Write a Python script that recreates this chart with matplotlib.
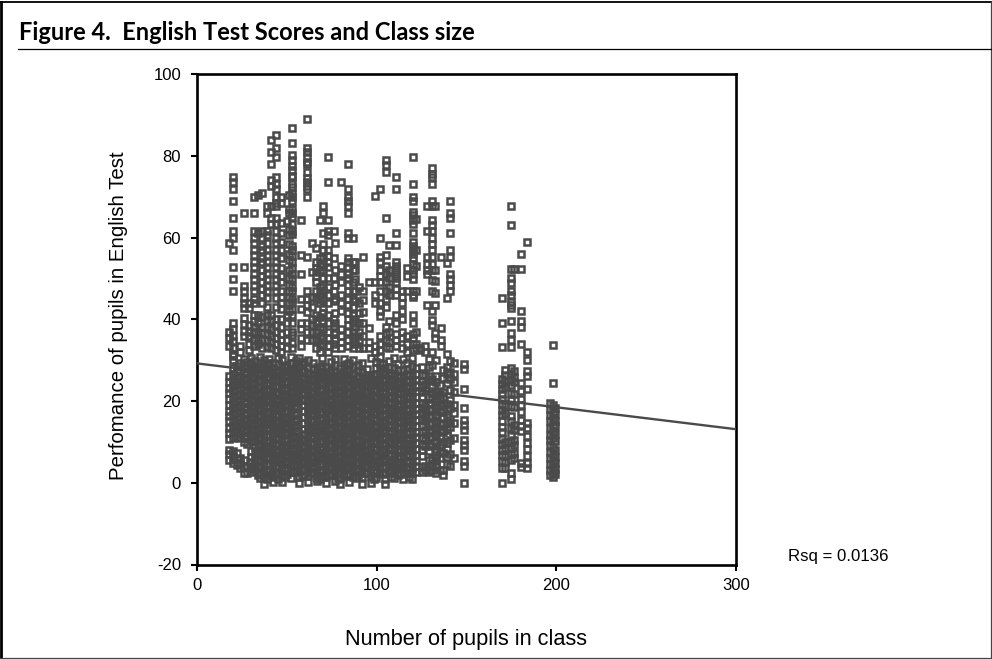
import matplotlib
matplotlib.use("Agg")
import matplotlib.pyplot as plt
from matplotlib.lines import Line2D

plt.rcParams["axes.unicode_minus"] = False

title = "Figure 4.  English Test Scores and Class size"
x_label = "Number of pupils in class"
y_label = "Perfomance of pupils in English Test"
rsq_label = "Rsq = 0.0136"
x_ticks = [0, 100, 200, 300]
y_ticks = [-20, 0, 20, 40, 60, 80, 100]
line_x = [0, 300]
line_y = [29.2, 13.1]

# scores above the dense band, one list per class size
top_sizes = [18, 20, 24, 26, 29, 32, 34, 36, 39, 41, 44, 47, 50, 51, 53, 58, 61, 64, 66, 68.5,
             70, 73, 76, 77, 80, 84, 86.7, 88, 90, 92.6, 95.6, 99, 102, 105, 107, 111, 114, 117,
             120, 122, 124, 127, 128, 131, 132.5, 136, 139, 141]
top_scores = [
    [58.7, 37, 35.5, 33.5],
    [74.9, 73.7, 71.8, 68.9, 64.7, 61.7, 60, 56.9, 52.9, 49.9, 46.9, 39, 37.5, 36, 34.7, 33, 31.5],
    [33.5, 32],
    [65.9, 52.9, 48.1, 46.9, 45.1, 44, 42.8, 40.3, 38.8, 37.2, 35.8],
    [44, 42.8, 38.6, 37, 35.8, 34, 32.5],
    [65.9, 70, 61.7, 60, 58.7, 56.9, 55.7, 53.9, 52.9, 51.1, 49.9, 48.1, 46.9, 45, 44, 41, 39.5, 38, 36.8, 35, 33.5],
    [70.5, 61, 41, 39, 37, 35.5, 34],
    [71, 61.7, 60, 58, 56.9, 55, 53.9, 52, 50.5, 49, 47.5, 46, 44, 40.5, 38, 36.7, 35, 33],
    [67.7, 65.9, 61.7, 60.5, 58.7, 56.9, 55.7, 53.9, 52.9, 51.1, 49.9, 48.1, 46.9, 45.1, 43, 41, 39.8, 38, 36.5, 35, 33.2],
    [83.8, 80.8, 77.9, 74, 72.5, 67.7, 64.7, 63.4, 41, 39.5, 37.5, 36, 34.5, 33],
    [85, 82, 79.6, 74.9, 73, 71.8, 70, 68.5, 67.7, 64.7, 63.4, 61.7, 60, 58.7, 56.9, 55.7, 53.9, 52.9, 51.1, 49.9, 48.1, 46.9, 45.1, 43, 40, 38.5, 37, 35.5, 34, 32.5],
    [69.8, 68.5, 63.5, 61, 59, 57, 55, 52.5, 50.5, 49, 47, 45.5, 44, 42.5, 40, 38, 36.5, 35, 33.5, 32],
    [64, 41, 39, 37, 35, 33],
    [70.5, 67, 66, 62, 60.5, 58.5, 56, 54.5, 52, 50, 48.5, 47, 45.5, 44, 42],
    [86.7, 83.2, 80.2, 79, 77.5, 76.5, 75, 74.8, 73, 72.3, 71, 70, 68.9, 67, 66, 65, 63.4, 61.7, 60.8, 58, 57, 55.5, 54, 52.5, 51, 49.9, 48, 46.9, 45, 44.2, 42.5, 41, 39, 37, 36.2, 34.2, 33],
    [64.4, 55.7, 51.1, 45, 42.5, 39, 37.5, 35.5, 33.5],
    [89.1, 82, 80.8, 79.6, 78.4, 77.9, 76.1, 74.5, 73.6, 72.6, 71.8, 70, 55.3, 47, 45, 43.5, 41.7, 39, 37, 35],
    [58.7, 51.5, 45.5, 43, 40, 38.5, 37, 35],
    [57.5, 54, 52.5, 50.5, 49, 47, 45, 41, 39, 37, 35, 33],
    [64.3, 55, 53, 51.5, 48, 46, 44, 40.5, 38, 36, 34, 32],
    [67.7, 65.9, 61.2, 58.5, 57, 55.3, 53.5, 52, 50, 48.5, 47, 45, 43, 41.5, 39.5, 37.5, 35.5, 33.5],
    [79.6, 73.7, 64.3, 61.7, 60.5, 57, 55.5, 54, 52.9, 50, 48, 46, 44, 41, 39, 37, 35.5, 33.5, 32],
    [61.7, 55, 50, 47, 44.5, 40, 38, 36.5, 34],
    [58.7, 52, 48.5, 45, 41.5, 39, 37, 35, 33],
    [73.6, 53, 51, 49, 46, 44, 42, 37.5, 36, 34.5, 33],
    [77.9, 71.8, 70, 68.9, 67.7, 65.9, 61.2, 60, 55, 54, 52.9, 51, 50, 48.5, 47, 45, 43.5, 41.5, 40, 38.5, 37, 35, 33.5],
    [60, 54, 52, 49, 47, 45, 43, 41, 39, 37, 35, 33],
    [54, 52, 49.9, 47, 44.5, 40, 38, 36, 34],
    [48, 44, 41.5, 39, 37, 35, 33],
    [55.3, 47, 44.8, 41.7, 39, 36, 33],
    [49, 37.8, 34.5, 33],
    [70.1, 49.2, 46, 44, 33.5, 32],
    [71.8, 60, 55.2, 54, 52, 50.5, 49, 47, 44, 41.9, 40.7, 36, 34, 32.5],
    [78.9, 77.7, 76.1, 64.7, 55.7, 53, 51, 49, 47, 45, 43, 38, 36.5, 35, 33.2],
    [58.1, 52, 50, 48, 46, 39.5, 37, 34.5, 33],
    [74.9, 71.8, 61.2, 58.1, 54, 53, 52, 51, 50, 49, 47.5, 46, 41, 39, 36.5, 35, 33.5],
    [47, 45.5, 44, 42, 40, 37, 35.5, 33],
    [52.5, 50.5, 47, 36, 34, 32],
    [79.6, 73, 70, 68.9, 66.3, 65.4, 64.4, 63.4, 61.2, 59, 58, 57, 56, 55, 53.6, 52, 51, 49.9, 47, 46, 45.5, 41, 39, 36.5, 35.5, 34, 32.5],
    [64.5, 57, 53, 47, 37, 34, 33],
    [33, 32.5],
    [33.5, 32],
    [67.7, 61.7, 55.3, 53.6, 52, 51, 43.5],
    [76.9, 75.6, 74.9, 73, 68.9, 67.7, 64.3, 63, 61.7, 59.8, 58.5, 56.9, 55.3, 53.6, 52, 49.6, 46.8, 41.9, 39.9, 38.5, 32],
    [67.7, 52, 49.3, 46.5, 43.5, 36.6, 35.5],
    [55.3, 37.8, 35, 33.4],
    [53.8, 45.1, 31.5],
    [68.9, 65.9, 64.7, 61.2, 56.9, 55.3, 51, 49.9, 48.4, 46.8],
]

# the crowded part of the cloud, one list per class size
band_sizes = [18, 20, 22, 24, 26, 28, 30, 32.5, 35, 37.5, 40, 42.5, 45, 47.5, 50, 52.5, 55, 57, 59.5,
              62, 64.5, 67, 69.5, 72, 74.5, 77, 79.5, 82, 84.5, 87, 89.5, 92, 94.5, 97, 99.5, 102,
              104.5, 107, 109.5, 112, 114.5, 117, 119.5, 122, 125, 127, 129, 131, 133, 135, 137,
              139, 141, 143]
band_scores = [
    [5.6, 7, 8, 10.8, 12.2, 13.5, 15, 16.4, 17.6, 19, 20.5, 22, 23.3, 24.6, 26.2],
    [4.9, 6.3, 7.8, 11, 12.5, 14, 15.2, 16.8, 18.2, 19.5, 21, 22.5, 23.8, 25, 26.6, 28, 30, 31],
    [4.4, 5.8, 7.2, 11.3, 12.8, 13.9, 15.6, 17, 18.4, 19.9, 21.3, 22.7, 24, 25.6, 27, 28.5],
    [3.5, 4.9, 6.1, 10.9, 12, 13.4, 14.8, 16.1, 17.5, 19, 20.4, 21.8, 23.2, 24.8, 26.1, 27.6, 29.2],
    [2.5, 3.8, 5.5, 9.9, 11.4, 12.9, 14.3, 15.5, 17.1, 18.6, 20, 21.5, 22.8, 24.3, 25.7, 27.2, 28.8, 30.2],
    [2.4, 4.2, 9.5, 11, 12.4, 13.7, 15.1, 16.7, 18, 19.4, 20.9, 22.3, 23.6, 25.2, 26.6, 28.1, 29.5],
    [2.6, 3.6, 5, 6.4, 7.7, 10.2, 11.8, 13.1, 14.6, 16, 17.4, 18.8, 20.2, 21.7, 23, 24.5, 25.9, 27.5, 29, 30.6],
    [3, 4.4, 5.9, 7.3, 8.8, 10.1, 11.5, 12.7, 14.2, 15.7, 17.2, 18.5, 19.9, 21.4, 22.8, 24.1, 25.6, 27, 28.3, 29.9],
    [1.2, 2.5, 3.9, 5.2, 6.6, 8, 9.4, 10.8, 12.1, 13.5, 15, 16.3, 17.8, 19.2, 20.6, 22, 23.4, 24.9, 26.3, 27.8, 29.2, 30.7],
    [-0.2, 1.5, 2.9, 4.5, 5.8, 7.2, 8.6, 10, 11.5, 12.9, 14.3, 15.6, 17, 18.4, 19.8, 21.2, 22.6, 24, 25.4, 26.9, 28.4, 30],
    [1.8, 3.2, 4.7, 6, 7.5, 8.9, 10.3, 11.7, 13, 14.6, 16, 17.3, 18.7, 20.1, 21.5, 23, 24.3, 25.8, 27.1, 28.8, 30.3],
    [0.1, 1.4, 2.7, 4.1, 5.5, 6.9, 8.3, 9.7, 11.1, 12.4, 13.8, 15.3, 16.7, 18.1, 19.5, 20.8, 22.3, 23.7, 25.1, 26.5, 28, 29.4],
    [1, 2.4, 3.8, 5.1, 6.5, 7.9, 9.3, 10.7, 12.2, 13.6, 15, 16.4, 17.7, 19.1, 20.6, 22, 23.5, 24.8, 26.2, 27.7, 29.1, 30.5],
    [0.2, 1.7, 3.1, 4.6, 5.9, 7.3, 8.7, 10.1, 11.6, 13, 14.4, 15.8, 17.2, 18.5, 19.9, 21.4, 22.9, 24.2, 25.6, 27, 28.5, 30],
    [2.2, 3.5, 5, 6.3, 7.8, 9.1, 10.6, 12, 13.3, 14.8, 16.1, 17.6, 19, 20.3, 21.8, 23.1, 24.6, 26, 27.4, 28.9],
    [1.1, 2.6, 4, 5.4, 6.8, 8.2, 9.6, 11, 12.4, 13.8, 15.2, 16.6, 18, 19.4, 20.8, 22.2, 23.6, 25, 26.4, 27.9, 29.4, 30.8],
    [2.9, 4.3, 5.7, 7.1, 8.5, 9.9, 11.3, 12.7, 14.1, 15.5, 16.9, 18.3, 19.7, 21.1, 22.5, 23.9, 25.3, 26.8, 28.2, 29.8],
    [0, 1.3, 2.8, 4.2, 5.6, 7, 8.4, 9.8, 11.2, 20.4, 21.9, 23.3, 24.7, 26.1, 27.6, 29, 30.6],
    [1.9, 3.3, 4.8, 6.2, 7.6, 9, 10.4, 11.9, 13.2, 14.7, 16.2, 17.5, 18.9, 20.2, 21.7, 23.2, 24.5, 25.9, 27.3, 29.6],
    [0.3, 1.6, 3, 4.4, 5.8, 7.2, 8.6, 10, 11.4, 12.8, 14.2, 15.6, 17, 18.4, 19.8, 21.2, 22.6, 24, 25.4, 26.8, 28.1, 30.1],
    [2.3, 3.7, 5.1, 6.5, 8, 9.4, 10.9, 12.3, 13.7, 15.1, 16.5, 17.9, 19.3, 20.7, 22.1, 23.5, 24.9, 26.3, 27.8, 29.3],
    [0.4, 1.2, 2.7, 4.1, 5.5, 7, 8.3, 9.7, 11.1, 12.5, 13.9, 15.3, 16.8, 18.2, 19.6, 21, 22.4, 23.8, 25.2, 26.7, 28.3],
    [1.7, 3.2, 4.6, 6, 7.4, 8.8, 10.2, 11.6, 13, 14.4, 15.9, 17.3, 18.7, 20.1, 21.5, 22.9, 24.3, 25.7, 27.1, 28.6, 30.4],
    [-0.1, 1.4, 2.9, 4.3, 5.7, 7.1, 8.5, 9.9, 11.3, 12.7, 14.1, 15.5, 17, 18.4, 19.8, 21.2, 22.7, 24.1, 25.5, 26.9, 28.4],
    [2.1, 3.6, 5, 6.4, 7.8, 9.2, 10.6, 12, 13.4, 14.9, 16.3, 17.7, 19.1, 20.5, 21.9, 23.4, 24.8, 26.2, 27.6, 29.5],
    [0.5, 1.8, 3.3, 4.7, 6.1, 7.5, 8.9, 10.3, 11.7, 13.1, 14.5, 16, 17.4, 18.8, 20.2, 21.6, 23, 24.4, 25.8, 27.2, 28.7, 30.3],
    [-0.3, 1.1, 2.5, 3.9, 5.3, 6.7, 8.1, 9.5, 10.9, 12.3, 13.7, 15.2, 16.6, 18, 19.5, 20.9, 22.3, 23.7, 25.1, 26.6, 28],
    [1.6, 3, 4.4, 5.8, 7.3, 8.7, 10.1, 11.5, 12.9, 14.3, 15.8, 17.2, 18.6, 20, 21.4, 22.8, 24.2, 25.6, 27, 28.5, 30.2],
    [0.1, 2.2, 3.7, 5.1, 6.6, 8, 9.4, 10.8, 12.2, 13.6, 15, 16.4, 17.8, 19.2, 20.6, 22, 23.4, 24.8, 26.3, 27.8, 29.2],
    [1.3, 2.8, 4.2, 5.6, 7, 8.4, 9.8, 11.2, 12.6, 14, 15.4, 16.9, 18.3, 19.7, 21.1, 22.5, 23.9, 25.3, 26.7, 28.2, 30],
    [2, 3.4, 4.9, 6.3, 7.7, 9.1, 10.5, 11.9, 13.3, 14.7, 16.1, 17.5, 18.9, 20.3, 21.7, 23.2, 24.6, 26, 27.4, 28.8],
    [-0.2, 1.5, 3, 4.5, 5.9, 7.3, 8.7, 10.1, 11.5, 12.9, 14.3, 15.7, 17.1, 18.5, 20, 21.4, 22.8, 24.2, 25.6, 27, 29.4],
    [2.4, 3.8, 5.2, 6.7, 8.1, 9.5, 10.9, 12.3, 13.7, 15.2, 16.6, 18, 19.4, 20.8, 22.2, 23.6, 25, 26.4, 27.9],
    [0, 1.7, 3.1, 4.6, 6, 7.4, 8.8, 10.2, 11.6, 13, 14.4, 15.9, 17.3, 18.7, 20.1, 21.5, 22.9, 24.3, 25.8, 30.5],
    [1.2, 2.6, 4, 5.4, 6.9, 8.3, 9.7, 11.1, 12.5, 13.9, 15.3, 16.8, 18.2, 19.6, 21, 22.4, 23.8, 25.2, 26.6, 28, 29.5],
    [2.3, 3.7, 5.1, 6.5, 8, 9.4, 10.8, 12.2, 13.6, 15, 16.5, 17.9, 19.3, 20.7, 22.1, 23.5, 24.9, 26.3, 27.7, 29.2, 30.8],
    [-0.3, 0.9, 2.5, 3.9, 5.3, 6.8, 8.2, 9.6, 11, 12.4, 13.8, 15.2, 16.7, 18.1, 19.5, 20.9, 22.3, 23.7, 25.1, 26.5, 28.1],
    [2.7, 4.1, 5.5, 6.9, 8.4, 9.8, 11.2, 12.6, 14, 15.4, 16.8, 18.2, 19.7, 21.1, 22.6, 24, 25.4, 26.8, 28.2, 29.9],
    [1.1, 2.5, 3.9, 5.3, 6.7, 8.2, 9.6, 11, 12.4, 13.8, 15.2, 16.6, 18, 19.4, 20.9, 22.3, 23.7, 25.1, 26.5, 28, 30.4],
    [2, 3.5, 4.9, 6.4, 7.8, 9.2, 10.6, 12, 13.4, 14.8, 16.2, 17.7, 19.1, 20.5, 21.9, 23.3, 24.7, 26.1, 27.5, 29],
    [0.8, 2.2, 3.6, 5, 6.5, 7.9, 9.3, 10.7, 12.1, 13.5, 14.9, 16.3, 17.8, 19.2, 20.6, 22, 23.4, 24.8, 26.2, 27.7, 30.2],
    [2.4, 3.8, 5.2, 6.6, 8.1, 9.5, 10.9, 12.3, 13.7, 15.1, 16.5, 18, 19.4, 20.8, 22.2, 23.6, 25, 26.4, 27.8, 29.3],
    [1, 2.3, 3.7, 5.2, 6.6, 8, 9.4, 10.8, 12.2, 13.6, 15, 16.5, 17.9, 19.3, 20.7, 22.1, 23.5, 24.9, 26.3, 28.5, 30.6],
    [2.6, 4, 5.4, 6.8, 8.2, 9.7, 11.1, 12.5, 13.9, 15.3, 16.7, 18.1, 19.5, 21, 22.4, 23.8, 25.2, 26.6, 28],
    [2.6, 3.9, 6.5, 8, 9.4, 11, 12.4, 14, 15.5, 17, 18.4, 19.6, 20.9, 22.3, 23.6, 25, 26.4, 28.2],
    [3, 4.2, 8.9, 10.4, 13, 15, 16.2, 17.8, 19, 22.6, 24.1, 26.3],
    [2.7, 3.8, 5.6, 7.8, 9.5, 11, 12.4, 14.4, 16, 18, 19.4, 21, 24.8, 26.1, 28.2, 30.3],
    [3.2, 4.5, 6, 9, 11.2, 13, 14.6, 16.4, 17.8, 20.6, 22, 23.8, 25.4, 28.7],
    [2.5, 4, 5.2, 6.4, 8.2, 10, 12, 13.6, 15.1, 16.6, 18.3, 20, 22.3, 24.6, 26, 30],
    [3, 6, 7.8, 9.3, 11.2, 12.9, 14.7, 17.2, 18.7, 20.4, 21.7, 24],
    [1.8, 3.2, 7.2, 10, 12.4, 14.3, 15.9, 17.8, 19.4, 20.8, 22.2, 25.6, 27.5],
    [4.6, 6.3, 8.3, 9.7, 11.5, 13.1, 14.5, 16.1, 18, 19.2, 24.3, 26.6, 28.4],
    [4.2, 7, 10.4, 13.6, 15.4, 18.4, 20.2, 22.8, 25.3, 27.2, 29.7],
    [6, 11, 14.5, 17, 19, 22.2, 24.6, 26.5, 29.2],
]

# further classes inside the crowded part
fill_sizes = [33.75, 38.75, 43.75, 48.75, 53.75, 58.25, 63.25, 68.25, 73.25, 78.25, 83.25, 88.25,
              93.25, 98.25, 103.25, 108.25, 113.25, 118.25]
fill_scores = [
    [2, 3.8, 5.5, 7.4, 9, 11, 12.8, 14.6, 16.3, 18, 19.8, 21.5, 23.4, 25, 26.8, 28.5],
    [1, 2.8, 4.6, 6.3, 8.2, 10, 11.7, 13.5, 15.3, 17, 18.8, 20.6, 22.4, 24.1, 25.9, 27.8, 29.4],
    [2.2, 4, 5.8, 7.5, 9.3, 11, 12.9, 14.7, 16.5, 18.2, 20, 21.8, 23.6, 25.4, 27.1],
    [1.4, 3.2, 5, 6.8, 8.6, 10.4, 12.2, 14, 15.7, 17.5, 19.3, 21, 22.8, 24.7, 26.4, 28.2],
    [2.6, 4.4, 6.2, 8, 9.8, 11.5, 13.3, 15.2, 17, 18.7, 20.5, 22.3, 24, 25.8, 27.6],
    [1.6, 3.4, 5.2, 7, 8.8, 10.6, 20.2, 22, 23.8, 25.6, 27.3, 29],
    [2.4, 4.2, 6, 7.8, 9.6, 11.4, 13.2, 15, 16.8, 18.5, 20.3, 22.1, 23.9, 25.7],
    [1, 2.9, 4.7, 6.5, 8.3, 10.1, 11.9, 13.7, 15.5, 17.3, 19, 20.8, 22.6, 24.4, 26.2, 28],
    [2, 3.8, 5.6, 7.4, 9.2, 11, 12.8, 14.6, 16.4, 18.2, 20, 21.7, 23.5, 25.3, 27.1],
    [0.8, 2.7, 4.5, 6.3, 8.1, 9.9, 11.7, 13.5, 15.3, 17, 18.8, 20.6, 22.4, 24.2, 26],
    [2.2, 4, 5.8, 7.6, 9.4, 11.2, 13, 14.8, 16.6, 18.4, 20.2, 22, 23.7, 25.5, 27.3, 29],
    [1.2, 3, 4.8, 6.6, 8.4, 10.2, 12, 13.8, 15.6, 17.4, 19.1, 20.9, 22.7, 24.5],
    [2.4, 4.2, 6, 7.8, 9.6, 11.4, 13.2, 15, 16.7, 18.5, 20.3, 22.1, 23.9, 25.6],
    [1, 2.9, 4.7, 6.5, 8.3, 10.1, 11.9, 13.7, 15.5, 17.2, 19, 20.8, 22.6, 24.4, 26.3],
    [2.1, 3.9, 5.7, 7.5, 9.3, 11.1, 12.9, 14.7, 16.5, 18.3, 20.1, 21.9, 23.7, 25.4, 27.2, 29],
    [1.3, 3.1, 4.9, 6.7, 8.5, 10.3, 12.1, 13.9, 15.7, 17.5, 19.2, 21, 22.8, 24.6, 26.4],
    [2.5, 4.3, 6.1, 7.9, 9.7, 11.5, 13.3, 15.1, 16.9, 18.7, 20.5, 22.3, 24.1, 25.9],
    [1.5, 3.3, 5.1, 6.9, 8.7, 10.5, 12.3, 14.1, 15.9, 17.7, 19.5, 21.3, 23.1, 24.8, 26.6],
]

# the separate columns at the right
right_sizes = [148.6, 169.7, 171.5, 175, 176.5, 180.5, 183.4, 196.5, 198, 199.5]
right_scores = [
    [29, 27.8, 22.9, 18.2, 15.4, 14.1, 12.9, 10.5, 9.2, 8, 5.2, 4, 0],
    [45.1, 39.2, 33.1, 25.5, 24.2, 23, 21.7, 20.4, 19.2, 17.8, 16.5, 15, 13.7, 12.4, 10.8, 9.4, 8, 6.7, 5.2, 3.5, 0],
    [27.6, 26.4, 25, 23.4, 18.7, 17, 10, 8.5, 6.6, 5, 3.6],
    [67.7, 63, 52.2, 50, 48.8, 47, 46, 44.3, 43.4, 42.7, 39.6, 36.6, 34.9, 33.3, 28, 26.6, 25.2, 24, 22, 20.2, 18.8, 16.4, 15, 13.4, 11.7, 10, 8.6, 7, 5.5, 2.4, 1],
    [52.2, 27.4, 25.9, 24.6, 21.8, 18.5, 14.2, 12.8, 10.5, 9.3, 7.4, 6],
    [55.9, 52.2, 42, 39.6, 38, 33.9, 24.3, 22.4, 20.6, 19, 17.3, 15.4, 14, 12.6, 4.8, 3.8],
    [58.8, 31.9, 30, 27.4, 26, 23, 14.7, 13.3, 11.5, 9.8, 8.2, 6.6, 4.9, 3.6],
    [19.4, 18, 16.6, 15, 13.4, 11.8, 10.5, 9.2, 7.5, 6, 4.6, 3.2, 1.8],
    [33.7, 24.3, 19, 17.4, 15.9, 14.2, 12.6, 11, 8.8, 7, 5.4, 4, 2.5, 1.5],
    [18.2, 16.8, 15.2, 13.8, 12, 10.1, 8, 6.4, 4.8, 3.4, 2.1],
]

mark_color = "#4a4a4a"

fig = plt.figure(figsize=(9.92, 6.59), dpi=100)
ax = fig.add_axes([197 / 992, 1 - 564.5 / 659, 539 / 992, 490.5 / 659])

groups = [(band_sizes, band_scores), (fill_sizes, fill_scores), (top_sizes, top_scores), (right_sizes, right_scores)]
for sizes, scores in groups:
    for size, col in zip(sizes, scores):
        ax.plot([size] * len(col), col, "s", mfc="none", mec=mark_color, ms=4, mew=1.8)

ax.plot(line_x, line_y, color=mark_color, lw=1.7, zorder=5)

ax.set_xlim(0, 300)
ax.set_ylim(-20, 100)
ax.set_xticks(x_ticks)
ax.set_yticks(y_ticks)
ax.tick_params(direction="out", length=4.5, width=1.5, labelsize=12)
ax.tick_params(axis="x", pad=5)
ax.tick_params(axis="y", pad=7)
for s in ax.spines.values():
    s.set_linewidth(1.9)
for lab in ax.get_xticklabels() + ax.get_yticklabels():
    lab.set_family("Liberation Sans")

fig.text(466 / 992, 1 - 640 / 659, x_label, fontsize=15.7, family="Liberation Sans", ha="center", va="center")
fig.text(119 / 992, 1 - 316 / 659, y_label, fontsize=14.7, family="Liberation Sans", rotation=90, ha="center", va="center")
fig.text(788 / 992, 1 - 557 / 659, rsq_label, fontsize=12.1, family="Liberation Sans", ha="left", va="center")
fig.text(19 / 992, 1 - 32 / 659, title, fontsize=17, family="Lato", weight="bold", ha="left", va="center")

# outer frame, heavier at the left, and the rule under the title
fig.add_artist(Line2D([1.3 / 992, 1.3 / 992], [0, 1 - 1.5 / 659], color="black", lw=2))
fig.add_artist(Line2D([0, 991 / 992], [1 - 2 / 659] * 2, color="black", lw=1.3))
fig.add_artist(Line2D([991 / 992, 991 / 992], [0, 1 - 2 / 659], color="#444444", lw=0.9))
fig.add_artist(Line2D([0, 991 / 992], [1 - 658 / 659] * 2, color="#444444", lw=0.9))
fig.add_artist(Line2D([18 / 992, 991 / 992], [1 - 49 / 659] * 2, color="black", lw=0.9))

fig.savefig("out.png", dpi=100)
